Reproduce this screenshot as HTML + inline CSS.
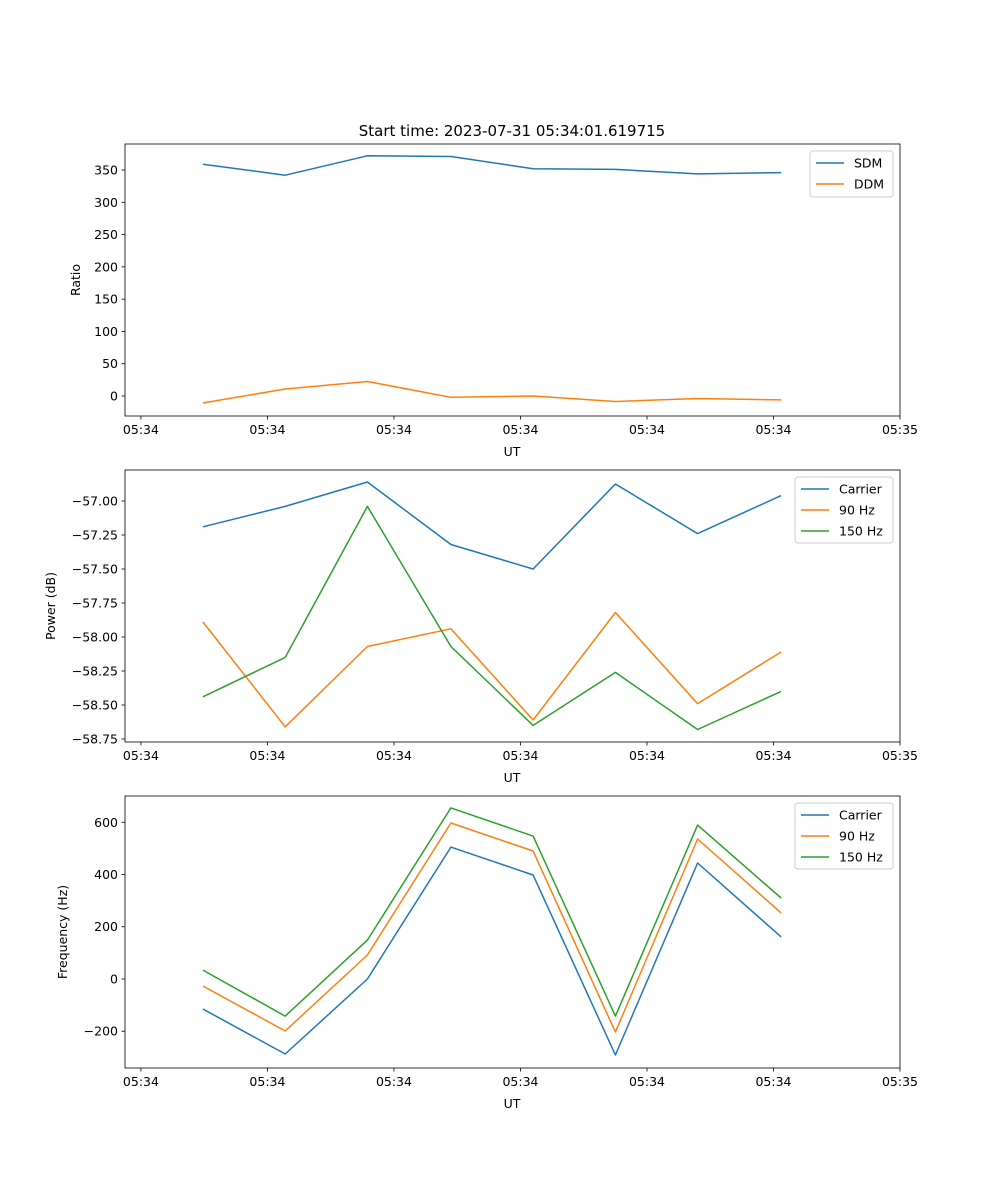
<!DOCTYPE html>
<html><head><meta charset="utf-8">
<style>
body{margin:0;background:#fff;}
svg{display:block;font-family:"DejaVu Sans","Liberation Sans",sans-serif;}
</style></head>
<body>
<svg id="fig" width="1000" height="1200" viewBox="0 0 1000 1200" xmlns="http://www.w3.org/2000/svg">
<rect width="1000" height="1200" fill="#fff"/>
<text x="512" y="136" font-size="15" text-anchor="middle">Start time: 2023-07-31 05:34:01.619715</text>
</svg>
<script>
// times in seconds from first x tick
const times = [4.9, 11.4, 17.9, 24.5, 31.0, 37.5, 44.0, 50.6];
const xTickVals = [0, 10, 20, 30, 40, 50, 60];
const xTickLabels = ["05:34","05:34","05:34","05:34","05:34","05:34","05:35"];

const sdm = [359, 342, 372, 371, 352, 351, 344, 346];
const ddm = [-10.8, 10.8, 22.5, -2, 0, -8.5, -3.9, -6];

const pwrCarrier = [-57.19, -57.04, -56.86, -57.32, -57.50, -56.875, -57.24, -56.96];
const pwr90 = [-57.89, -58.66, -58.07, -57.94, -58.61, -57.82, -58.49, -58.11];
const pwr150 = [-58.44, -58.15, -57.04, -58.07, -58.65, -58.26, -58.68, -58.40];

const frqCarrier = [-115, -287, 0, 505, 398, -291, 444, 161];
const frq90 = [-27, -199, 92, 597, 490, -203, 536, 253];
const frq150 = [34, -142, 149, 655, 547, -142, 589, 310];

const ratioTicks = [0, 50, 100, 150, 200, 250, 300, 350];
const powerTicks = [-57.00, -57.25, -57.50, -57.75, -58.00, -58.25, -58.50, -58.75];
const freqTicks = [-200, 0, 200, 400, 600];

const C = ["#1f77b4", "#ff7f0e", "#2ca02c"];
const svg = document.getElementById('fig');
const NS = "http://www.w3.org/2000/svg";
const FS = 12.5;
function mk(tag, attrs, parent){
  const e = document.createElementNS(NS, tag);
  for (const k in attrs) e.setAttribute(k, attrs[k]);
  (parent || svg).appendChild(e);
  return e;
}
const L = 125, R = 900;
const xDom = [-1.26, 60];
function xs(t){ return L + (t - xDom[0]) / (xDom[1] - xDom[0]) * (R - L); }

function panel(cfg){
  const g = mk('g', {});
  
  
  const T = cfg.top, B = cfg.top + 272;
  const ys = v => B - (v - cfg.yDom[0]) / (cfg.yDom[1] - cfg.yDom[0]) * (B - T);
  xTickVals.forEach((v, i) => {
    const x = xs(v);
    const tk = mk('line', {x1:x, x2:x, y1:B, y2:B+3.5, stroke:'#000', 'stroke-width':0.8}, g);
    
    
    const t = mk('text', {x:x, y:B+18, 'font-size':FS, 'text-anchor':'middle'}, g);
    
    
    t.textContent = xTickLabels[i];
  });
  const xl = mk('text', {x:512, y:B+40, 'font-size':FS, 'text-anchor':'middle'}, g);
  
  
  xl.textContent = 'UT';
  cfg.yTicks.forEach(v => {
    const y = ys(v);
    const tk = mk('line', {x1:L-3.5, x2:L, y1:y, y2:y, stroke:'#000', 'stroke-width':0.8}, g);
    
    
    const t = mk('text', {x:L-7, y:y+4.5, 'font-size':FS, 'text-anchor':'end'}, g);
    
    
    t.textContent = cfg.fmt(v);
  });
  const yl = mk('text', {x:0, y:0, 'font-size':FS, 'text-anchor':'middle', transform:`translate(${cfg.ylx},${(T+B)/2}) rotate(-90)`}, g);
  
  
  yl.textContent = cfg.ylabel;
  cfg.series.forEach((s, si) => {
    const pts = s.data.map((v, i) => xs(times[i]).toFixed(1) + ',' + ys(v).toFixed(1)).join(' ');
    const pl = mk('polyline', {points:pts, fill:'none', stroke:C[si], 'stroke-width':1.5, 'stroke-linejoin':'round'}, g);
    
    
  });
  const fr = mk('rect', {x:L, y:T, width:R-L, height:B-T, fill:'none', stroke:'#000', 'stroke-width':0.8}, g);
  
  
  const lw = cfg.legW, lh = 6 + cfg.series.length * 20;
  const lx = R - 7 - lw, ly = T + 7;
  const lg = mk('g', {}, g);
  
  
  mk('rect', {x:lx, y:ly, width:lw, height:lh, rx:3, fill:'#fff', 'fill-opacity':0.8, stroke:'#ccc', 'stroke-width':1}, lg);
  cfg.series.forEach((s, si) => {
    const yy = ly + 12 + si * 21;
    const e = mk('g', {}, lg);
    
    
    mk('line', {x1:lx+6, x2:lx+34, y1:yy, y2:yy, stroke:C[si], 'stroke-width':1.5}, e);
    const t = mk('text', {x:lx+44, y:yy+4.5, 'font-size':FS}, e);
    t.textContent = s.label;
  });
}

panel({name:'ratio-panel', top:144, yDom:[-31, 390.3], yTicks:ratioTicks, fmt:v=>String(v), ylabel:'Ratio', ylx:80, legW:83,
  series:[{key:'sdm', label:'SDM', data:sdm},{key:'ddm', label:'DDM', data:ddm}]});
panel({name:'power-panel', top:470, yDom:[-58.772, -56.772], yTicks:powerTicks, fmt:v=>v.toFixed(2).replace('-','\u2212'), ylabel:'Power (dB)', ylx:55, legW:98,
  series:[{key:'carrier', label:'Carrier', data:pwrCarrier},{key:'90hz', label:'90 Hz', data:pwr90},{key:'150hz', label:'150 Hz', data:pwr150}]});
panel({name:'frequency-panel', top:796, yDom:[-340.7, 700.5], yTicks:freqTicks, fmt:v=>String(v).replace('-','\u2212'), ylabel:'Frequency (Hz)', ylx:67, legW:98,
  series:[{key:'carrier', label:'Carrier', data:frqCarrier},{key:'90hz', label:'90 Hz', data:frq90},{key:'150hz', label:'150 Hz', data:frq150}]});
</script>
</body></html>
